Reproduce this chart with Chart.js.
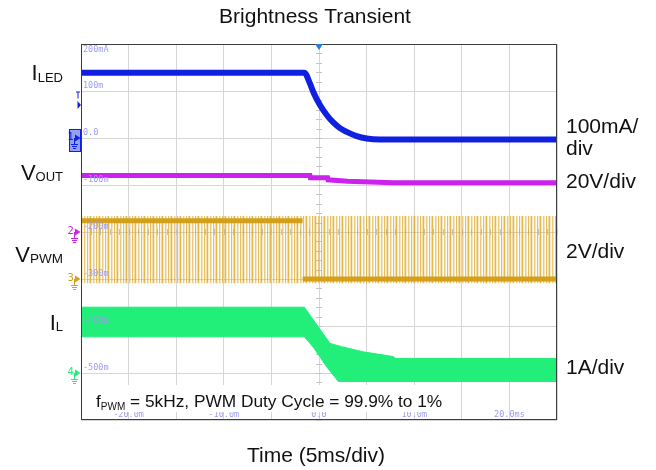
<!DOCTYPE html>
<html lang="en">
<head>
<meta charset="UTF-8">
<title>Brightness Transient</title>
<script src="https://cdn.jsdelivr.net/npm/chart.js"></script>
<style>
  html, body { margin: 0; padding: 0; background: #fff; }
  #wrap { width: 656px; height: 470px; }
</style>
</head>
<body>
<div id="wrap"><canvas id="scope" width="656" height="470"></canvas></div>
<script>
// time in ms (5ms/div), vertical values in the units of the 100mA/div grid
const xTickValues = [-20, -10, 0, 10, 20];
const xTickLabels = ['-20.0m', '-10.0m', '0.0', '10.0m', '20.0ms'];
const yTickValues = [200, 100, 0, -100, -200, -300, -400, -500];
const yTickLabels = ['200mA', '100m', '0.0', '-100m', '-200m', '-300m', '-400m', '-500m'];

// I_LED
const ledTime  = [-25, -1.54, -0.95, -0.6, 0.1, 0.81, 1.5, 2.2, 2.91, 3.96, 5.01, 6.4, 25];
const ledLevel = [139, 139, 116, 98, 70, 49, 33, 21, 13, 4, -1, -3, -3];

// V_OUT
const voutTime  = [-25, -0.95, -0.9, 0.9, 0.95, 3, 7.8, 25];
const voutLevel = [-80, -80, -84.5, -84.5, -89, -92, -95, -95];

// V_PWM: thick levels and the envelope of the switching edges
const pwmHighTime  = [-25, -1.72];
const pwmHighLevel = [-176, -176];
const pwmLowTime   = [-1.72, 25];
const pwmLowLevel  = [-300, -300];
const pwmEnvTime   = [-25, 25];
const pwmEnvTop    = [-166, -166];
const pwmEnvBottom = [-309, -309];

// I_L ripple band
const ilTopTime  = [-25, -1.54, 1.16, 2.38, 4.65, 7.8, 8.0, 25];
const ilTopLevel = [-360, -360, -437, -444, -455, -465, -469, -469];
const ilBotTime  = [-25, -1.54, -0.6, 0.81, 2.03, 25];
const ilBotLevel = [-423, -423, -445, -487, -518, -518];

// channel ground markers on the left edge
const chNumbers = ['1', '2', '3', '4'];
const chLevels  = [0, -200, -300, -500];
const chColors  = ['#1020e0', '#cc22ee', '#d4a01c', '#22ee7a'];

const pts = (t, v) => t.map((x, i) => ({ x: x, y: v[i] }));

function stripePattern() {
    const c = document.createElement('canvas');
    c.width = 9; c.height = 4;
    const g = c.getContext('2d');
    const alphas = [0.85, 0.25, 0.05, 0.6, 0.3, 0.0, 0.75, 0.15, 0.4];
    alphas.forEach((a, i) => {
        g.fillStyle = 'rgba(222,170,40,' + a + ')';
        g.fillRect(i, 0, 1, 4);
    });
    return g.createPattern(c, 'repeat');
}

function subLabel(ctx, main, sub, x, base, mainPx, subPx, drop, align) {
    ctx.font = mainPx + 'px "Liberation Sans", Arial, sans-serif';
    const wm = ctx.measureText(main).width;
    ctx.font = subPx + 'px "Liberation Sans", Arial, sans-serif';
    const ws = ctx.measureText(sub).width;
    const left = align === 'right' ? x - wm - ws : x;
    ctx.textAlign = 'left';
    ctx.textBaseline = 'alphabetic';
    ctx.font = mainPx + 'px "Liberation Sans", Arial, sans-serif';
    ctx.fillText(main, left, base);
    ctx.font = subPx + 'px "Liberation Sans", Arial, sans-serif';
    ctx.fillText(sub, left + wm, base + drop);
    return left + wm + ws;
}

function channelTag(ctx, num, color, y) {
    ctx.fillStyle = color;
    ctx.strokeStyle = color;
    ctx.lineWidth = 1;
    ctx.font = '10px "DejaVu Sans", sans-serif';
    ctx.textAlign = 'left';
    ctx.textBaseline = 'middle';
    ctx.fillText(num, 67.5, y - 1);
    ctx.beginPath();
    ctx.moveTo(75, y - 3.5); ctx.lineTo(80.5, y); ctx.lineTo(75, y + 3.5);
    ctx.closePath();
    ctx.fill();
    ctx.beginPath();
    ctx.moveTo(74.5, y); ctx.lineTo(74.5, y + 6);
    ctx.moveTo(71, y + 6.5); ctx.lineTo(78, y + 6.5);
    ctx.moveTo(72, y + 8.5); ctx.lineTo(77, y + 8.5);
    ctx.moveTo(73, y + 10.5); ctx.lineTo(76, y + 10.5);
    ctx.stroke();
}

const scopeDecor = {
    id: 'scopeDecor',
    beforeDatasetsDraw(chart) {
        const ctx = chart.ctx;
        const xs = chart.scales.x, ys = chart.scales.y;
        const cx = xs.getPixelForValue(0), cy = ys.getPixelForValue(-200);
        ctx.save();
        ctx.strokeStyle = '#c4c4c4';
        ctx.lineWidth = 1;
        ctx.beginPath();
        for (let v = -600; v <= 200; v += 20) {
            const y = Math.round(ys.getPixelForValue(v)) + 0.5;
            ctx.moveTo(cx - 3, y); ctx.lineTo(cx + 3, y);
        }
        for (let t = -25; t <= 25; t += 1) {
            const x = Math.round(xs.getPixelForValue(t)) + 0.5;
            ctx.moveTo(x, cy - 3); ctx.lineTo(x, cy + 3);
        }
        ctx.stroke();
        ctx.restore();
    },
    afterDraw(chart) {
        const ctx = chart.ctx;
        const a = chart.chartArea;
        const xs = chart.scales.x, ys = chart.scales.y;
        ctx.save();

        // grid value labels of the scope
        ctx.fillStyle = '#9c9cf0';
        ctx.font = '8.5px "DejaVu Sans Mono", monospace';
        ctx.textAlign = 'left';
        ctx.textBaseline = 'middle';
        yTickValues.forEach((v, i) => {
            const y = ys.getPixelForValue(v);
            ctx.fillText(yTickLabels[i], a.left + 2, i === 0 ? y + 6 : y - 5);
        });
        ctx.textAlign = 'center';
        xTickValues.forEach((t, i) => {
            ctx.fillText(xTickLabels[i], xs.getPixelForValue(t), a.bottom - 5);
        });

        // annotation box
        ctx.fillStyle = '#ffffff';
        ctx.fillRect(88, 385, 364, 27);
        ctx.fillStyle = '#111';
        const end = subLabel(ctx, 'f', 'PWM', 96, 407, 17.3, 10, 2.6, 'left');
        ctx.font = '17.3px "Liberation Sans", Arial, sans-serif';
        ctx.fillText(' = 5kHz, PWM Duty Cycle = 99.9% to 1%', end, 407);

        // frame
        ctx.strokeStyle = '#3c3c3c';
        ctx.lineWidth = 1;
        ctx.strokeRect(a.left + 0.5, a.top + 0.5, a.right - a.left - 1, a.bottom - a.top - 1);

        // trigger marker
        const tx = xs.getPixelForValue(0);
        ctx.fillStyle = '#2a7de0';
        ctx.beginPath();
        ctx.moveTo(tx - 4, a.top); ctx.lineTo(tx + 4, a.top); ctx.lineTo(tx, a.top + 6);
        ctx.closePath();
        ctx.fill();

        // trigger level marker
        ctx.fillStyle = '#1020e0';
        ctx.strokeStyle = '#1020e0';
        ctx.beginPath();
        ctx.moveTo(76, 92); ctx.lineTo(80, 92); ctx.moveTo(78, 92); ctx.lineTo(78, 98.5);
        ctx.stroke();
        ctx.beginPath();
        ctx.moveTo(77.5, 101); ctx.lineTo(81, 105); ctx.lineTo(77.5, 109);
        ctx.closePath();
        ctx.fill();

        // channel tags
        const y1 = ys.getPixelForValue(chLevels[0]);
        ctx.fillStyle = 'rgba(110,130,240,0.75)';
        ctx.fillRect(69, y1 - 9, 12, 23);
        ctx.strokeStyle = '#1020e0';
        ctx.strokeRect(69.5, y1 - 8.5, 11, 22);
        chNumbers.forEach((n, i) => {
            channelTag(ctx, n, i === 0 ? '#1020e0' : chColors[i], ys.getPixelForValue(chLevels[i]));
        });

        // titles and channel names
        ctx.fillStyle = '#111';
        ctx.font = '21px "Liberation Sans", Arial, sans-serif';
        ctx.textAlign = 'center';
        ctx.textBaseline = 'alphabetic';
        ctx.fillText('Brightness Transient', 315, 23);
        ctx.fillText('Time (5ms/div)', 316, 462);

        subLabel(ctx, 'I', 'LED', 63, 79.5, 22, 13, 2, 'right');
        subLabel(ctx, 'V', 'OUT', 63, 179.5, 22, 13, 1, 'right');
        subLabel(ctx, 'V', 'PWM', 63, 261.5, 22, 13.5, 1.5, 'right');
        subLabel(ctx, 'I', 'L', 63, 330, 22, 13, 1, 'right');

        ctx.font = '21px "Liberation Sans", Arial, sans-serif';
        ctx.textAlign = 'left';
        ctx.fillText('100mA/', 566, 133);
        ctx.fillText('div', 566, 155);
        ctx.fillText('20V/div', 566, 187.5);
        ctx.fillText('2V/div', 566, 257.5);
        ctx.fillText('1A/div', 566, 373.5);
        ctx.restore();
    }
};

const gridStyle = { color: '#d6d6d6', drawTicks: false };

new Chart(document.getElementById('scope'), {
    type: 'line',
    data: {
        datasets: [
            { data: pts(ledTime, ledLevel), borderColor: '#1020e0', borderWidth: 6, cubicInterpolationMode: 'monotone', fill: false },
            { data: pts(voutTime, voutLevel), borderColor: '#cc22ee', borderWidth: 5, fill: false },
            { data: pts(pwmHighTime, pwmHighLevel), borderColor: '#d4a01c', borderWidth: 5, fill: false },
            { data: pts(pwmLowTime, pwmLowLevel), borderColor: '#d4a01c', borderWidth: 5, fill: false },
            { data: pts(pwmEnvTime, pwmEnvTop), borderWidth: 0, borderColor: 'rgba(0,0,0,0)', backgroundColor: stripePattern(), fill: '+1' },
            { data: pts(pwmEnvTime, pwmEnvBottom), borderWidth: 0, borderColor: 'rgba(0,0,0,0)', fill: false },
            { data: pts(ilTopTime, ilTopLevel), borderColor: '#22ee7a', borderWidth: 1, backgroundColor: '#22ee7a', fill: '+1' },
            { data: pts(ilBotTime, ilBotLevel), borderColor: '#22ee7a', borderWidth: 1, fill: false }
        ]
    },
    options: {
        responsive: false,
        animation: false,
        devicePixelRatio: 1,
        layout: { padding: { left: 81, right: 99, top: 44, bottom: 50 } },
        elements: { point: { radius: 0 }, line: { borderCapStyle: 'butt' } },
        plugins: {
            legend: { display: false },
            tooltip: { enabled: false },
            title: { display: false }
        },
        scales: {
            x: {
                type: 'linear', min: -25, max: 25,
                ticks: { display: false, stepSize: 5 },
                grid: gridStyle,
                border: { display: false }
            },
            y: {
                min: -600, max: 200,
                ticks: { display: false, stepSize: 100 },
                grid: gridStyle,
                border: { display: false }
            }
        }
    },
    plugins: [scopeDecor]
});
</script>
</body>
</html>
